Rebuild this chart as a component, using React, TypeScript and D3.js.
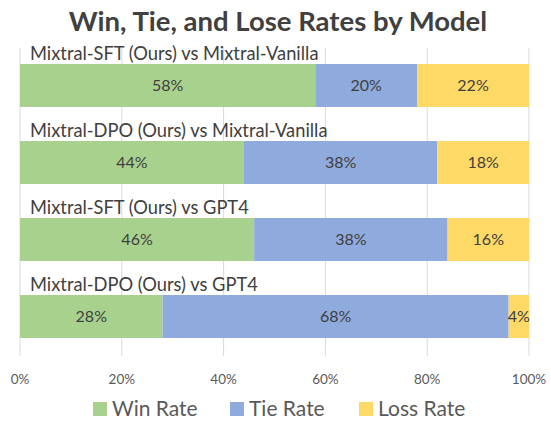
import React from 'react';
import * as d3 from 'd3';

const categories = [
  'Mixtral-SFT (Ours) vs Mixtral-Vanilla',
  'Mixtral-DPO (Ours) vs Mixtral-Vanilla',
  'Mixtral-SFT (Ours) vs GPT4',
  'Mixtral-DPO (Ours) vs GPT4',
];
const winRate = [58, 44, 46, 28];
const tieRate = [20, 38, 38, 68];
const lossRate = [22, 18, 16, 4];
const seriesNames = ['Win Rate', 'Tie Rate', 'Loss Rate'];
const seriesColors = ['#A9D18E', '#8FAADC', '#FFD966'];
const xTicks = [0, 20, 40, 60, 80, 100];

const W = 551;
const H = 421;
const FONT = 'Lato, "Noto Sans", sans-serif';

export default function App() {
  const x = d3.scaleLinear().domain([0, 100]).range([20, 529]);
  const y = d3.scaleBand().domain(categories).range([48, 356]);

  const rows = categories.map((c, i) => ({ c, vals: [winRate[i], tieRate[i], lossRate[i]] }));

  const legendX = [93, 230, 359];

  return (
    <svg width={W} height={H} style={{ position: 'absolute', left: 0, top: 0, background: '#fff' }}
      fontFamily={FONT}>
      <text x={278} y={31} textAnchor="middle" fontSize={27.5} fontWeight="bold" fill="#404040">
        Win, Tie, and Lose Rates by Model
      </text>
      {xTicks.map(t => (
        <line key={t} x1={x(t)} x2={x(t)} y1={48} y2={356} stroke="#d9d9d9" strokeWidth={1} />
      ))}
      {rows.map(r => {
        const top = y(r.c)!;
        let acc = 0;
        return (
          <g key={r.c}>
            <text x={30} y={top + 12} fontSize={18.3} fill="#404040">{r.c}</text>
            {r.vals.map((v, j) => {
              const x0 = x(acc);
              acc += v;
              const x1 = x(acc);
              return (
                <g key={j}>
                  <rect x={x0} y={top + 16} width={x1 - x0} height={43} fill={seriesColors[j]} />
                  <text x={(x0 + x1) / 2} y={top + 16 + 21.5} dy="0.35em" textAnchor="middle"
                    fontSize={16} fill="#404040">{v}%</text>
                </g>
              );
            })}
          </g>
        );
      })}
      {xTicks.map(t => (
        <text key={t} x={x(t)} y={384} textAnchor="middle" fontSize={13.5} fill="#595959">{t}%</text>
      ))}
      {seriesNames.map((s, i) => (
        <g key={s}>
          <rect x={legendX[i]} y={402} width={14} height={14} fill={seriesColors[i]} />
          <text x={legendX[i] + 19} y={415.5} fontSize={21} fill="#595959">{s}</text>
        </g>
      ))}
    </svg>
  );
}
